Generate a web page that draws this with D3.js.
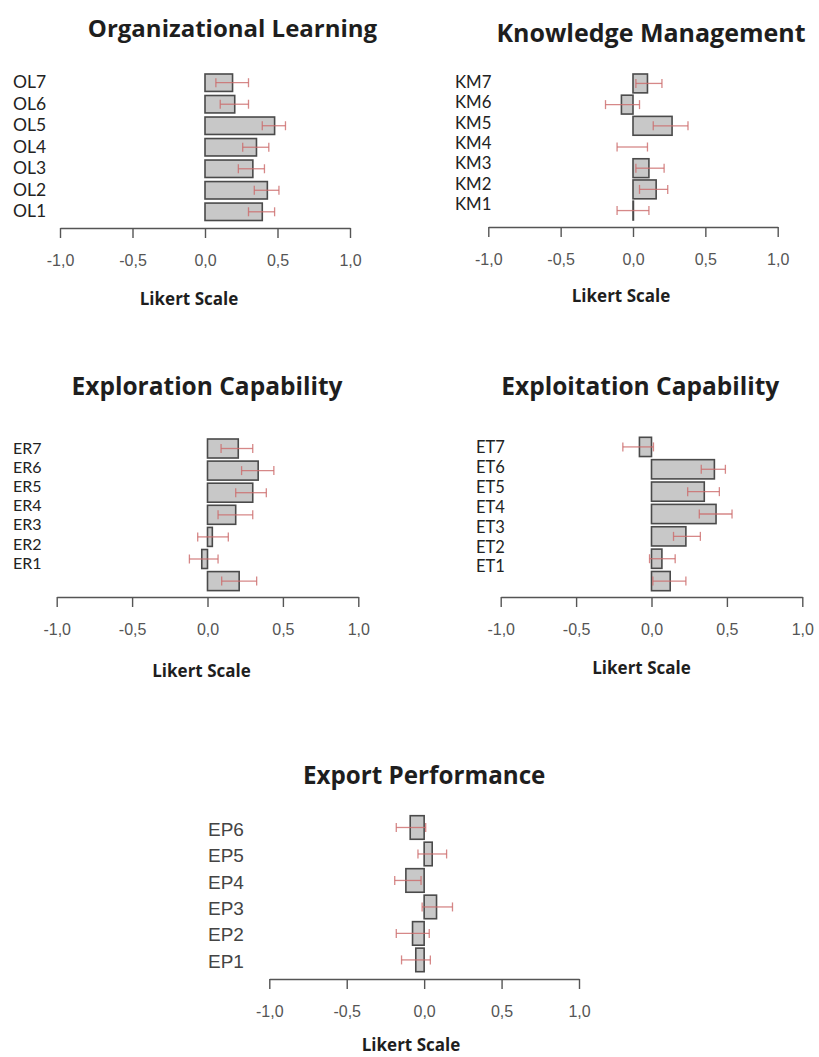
<!DOCTYPE html>
<html>
<head>
<meta charset="utf-8">
<script src="https://cdn.jsdelivr.net/npm/d3@7"></script>
<style>
  html, body { margin: 0; padding: 0; background: #fff; }
  svg { display: block; }
</style>
</head>
<body>
<svg id="chart" width="819" height="1057"></svg>
<script>
// Item means on the centred Likert scale, listed top to bottom, with the
// lower and upper ends of each error bar.
const olItems = ["OL7", "OL6", "OL5", "OL4", "OL3", "OL2", "OL1"];
const olMean  = [0.19, 0.205, 0.48, 0.355, 0.33, 0.43, 0.395];
const olLow   = [0.075, 0.105, 0.395, 0.26, 0.23, 0.34, 0.30];
const olHigh  = [0.30, 0.30, 0.555, 0.44, 0.41, 0.51, 0.48];

const kmItems = ["KM7", "KM6", "KM5", "KM4", "KM3", "KM2", "KM1"];
const kmMean  = [0.10, -0.08, 0.27, 0, 0.11, 0.16, 0.003];
const kmLow   = [0.02, -0.19, 0.14, -0.11, 0.02, 0.045, -0.11];
const kmHigh  = [0.20, 0.045, 0.38, 0.10, 0.215, 0.24, 0.11];

const erItems = ["ER7", "ER6", "ER5", "ER4", "ER3", "ER2", "ER1"];
const erMean  = [0.204, 0.336, 0.30, 0.187, 0.032, -0.038, 0.21];
const erLow   = [0.09, 0.226, 0.187, 0.07, -0.065, -0.12, 0.094];
const erHigh  = [0.30, 0.44, 0.39, 0.30, 0.138, 0.07, 0.326];

const etItems = ["ET7", "ET6", "ET5", "ET4", "ET3", "ET2", "ET1"];
const etMean  = [-0.08, 0.417, 0.35, 0.428, 0.228, 0.069, 0.124];
const etLow   = [-0.19, 0.33, 0.24, 0.317, 0.146, -0.013, 0.009];
const etHigh  = [0.013, 0.49, 0.45, 0.534, 0.324, 0.157, 0.228];

const epItems = ["EP6", "EP5", "EP4", "EP3", "EP2", "EP1"];
const epMean  = [-0.09, 0.052, -0.118, 0.08, -0.075, -0.054];
const epLow   = [-0.18, -0.04, -0.19, -0.013, -0.18, -0.146];
const epHigh  = [0.01, 0.145, -0.02, 0.183, 0.033, 0.04];

const axisTicks = [-1, -0.5, 0, 0.5, 1];
const axisTitle = "Likert Scale";

// Panel layout: axis extent, bar band, label column, title placement.
const panels = [
  { title: "Organizational Learning", items: olItems, mean: olMean, low: olLow, high: olHigh,
    xRange: [60, 350], axisY: 228, bars: [74, 220.5], barPad: 0.19,
    labelX: 13, labels: [82, 211], labelFont: "Lato, sans-serif", labelSize: 17.5, labelColor: "#222",
    titleX: 232.5, titleY: 37, titleSize: 24, axisTitleX: 189, axisTitleY: 305 },
  { title: "Knowledge Management", items: kmItems, mean: kmMean, low: kmLow, high: kmHigh,
    xRange: [488.3, 777.7], axisY: 227, bars: [74, 220], barPad: 0.11,
    labelX: 455, labels: [82, 204], labelFont: "Lato, sans-serif", labelSize: 16.8, labelColor: "#222",
    titleX: 651, titleY: 41.5, titleSize: 25, axisTitleX: 621, axisTitleY: 302 },
  { title: "Exploration Capability", items: erItems, mean: erMean, low: erLow, high: erHigh,
    xRange: [56.7, 358.3], axisY: 597, bars: [439, 590.6], barPad: 0.14,
    labelX: 13, labels: [448, 563], labelFont: "Lato, sans-serif", labelSize: 16, labelColor: "#222",
    titleX: 207, titleY: 395, titleSize: 24.5, axisTitleX: 201.5, axisTitleY: 677 },
  { title: "Exploitation Capability", items: etItems, mean: etMean, low: etLow, high: etHigh,
    xRange: [500.7, 802.3], axisY: 597, bars: [437.3, 590.7], barPad: 0.14,
    labelX: 476, labels: [447, 566.5], labelFont: "Lato, sans-serif", labelSize: 16.5, labelColor: "#222",
    titleX: 640.3, titleY: 394.5, titleSize: 24.5, axisTitleX: 641.5, axisTitleY: 673.5 },
  { title: "Export Performance", items: epItems, mean: epMean, low: epLow, high: epHigh,
    xRange: [269.3, 579], axisY: 979, bars: [815.7, 971.7], barPad: 0.11,
    labelX: 208, labels: [829, 961], labelFont: "'Liberation Sans', Arial, sans-serif", labelSize: 19, labelColor: "#444",
    titleX: 424.2, titleY: 783.5, titleSize: 24.2, axisTitleX: 411, axisTitleY: 1051 }
];

const svg = d3.select("#chart");
const commaFormat = d => d3.format(".1f")(d).replace(".", ",").replace("−", "-");

panels.forEach(p => {
  const g = svg.append("g");
  const rows = p.items.map((item, i) => ({ item, mean: p.mean[i], low: p.low[i], high: p.high[i] }));

  const x = d3.scaleLinear().domain([-1, 1]).range(p.xRange);
  const y = d3.scaleBand().domain(p.items).range(p.bars).paddingInner(p.barPad).paddingOuter(0);
  const yLabel = d3.scalePoint().domain(p.items).range(p.labels);

  // title
  g.append("text")
    .attr("x", p.titleX).attr("y", p.titleY)
    .attr("text-anchor", "middle")
    .style("font-family", "'Open Sans', sans-serif")
    .style("font-weight", 700)
    .style("font-size", p.titleSize + "px")
    .style("fill", "#1e1e1e")
    .text(p.title);

  // bars from zero to the item mean
  g.selectAll("rect.bar").data(rows).join("rect")
    .attr("class", "bar")
    .attr("x", d => x(Math.min(0, d.mean)))
    .attr("width", d => Math.abs(x(d.mean) - x(0)))
    .attr("y", d => y(d.item))
    .attr("height", y.bandwidth())
    .style("fill", "#c8c8c8")
    .style("stroke", "#4a4a4a")
    .style("stroke-width", 1.6);

  // error bars
  const cap = 4.5;
  const err = g.selectAll("g.err").data(rows).join("g").attr("class", "err")
    .attr("transform", d => `translate(0,${y(d.item) + y.bandwidth() / 2})`)
    .style("stroke", "#cc6a6a")
    .style("stroke-width", 1.3)
    .style("stroke-opacity", 0.8);
  err.append("line").attr("x1", d => x(d.low)).attr("x2", d => x(d.high));
  err.append("line").attr("x1", d => x(d.low)).attr("x2", d => x(d.low)).attr("y1", -cap).attr("y2", cap);
  err.append("line").attr("x1", d => x(d.high)).attr("x2", d => x(d.high)).attr("y1", -cap).attr("y2", cap);

  // item labels
  g.selectAll("text.item").data(rows).join("text")
    .attr("class", "item")
    .attr("x", p.labelX)
    .attr("y", d => yLabel(d.item))
    .attr("dy", "0.36em")
    .style("font-family", p.labelFont)
    .style("font-size", p.labelSize + "px")
    .style("fill", p.labelColor)
    .text(d => d.item);

  // value axis
  const axis = d3.axisBottom(x)
    .tickValues(axisTicks)
    .tickFormat(commaFormat)
    .tickSize(10)
    .tickSizeOuter(0)
    .tickPadding(17);
  const ax = g.append("g").attr("transform", `translate(0,${p.axisY})`).call(axis);
  ax.select(".domain").style("stroke", "#555").style("stroke-width", 1.4);
  ax.selectAll(".tick line").style("stroke", "#555").style("stroke-width", 1.4);
  ax.selectAll(".tick text")
    .style("font-family", "'Liberation Sans', Arial, sans-serif")
    .style("font-size", "16px")
    .style("fill", "#555");

  g.append("text")
    .attr("x", p.axisTitleX).attr("y", p.axisTitleY)
    .attr("text-anchor", "middle")
    .style("font-family", "'Open Sans', sans-serif")
    .style("font-weight", 700)
    .style("font-size", "17px")
    .style("fill", "#1e1e1e")
    .text(axisTitle);
});
</script>
</body>
</html>
